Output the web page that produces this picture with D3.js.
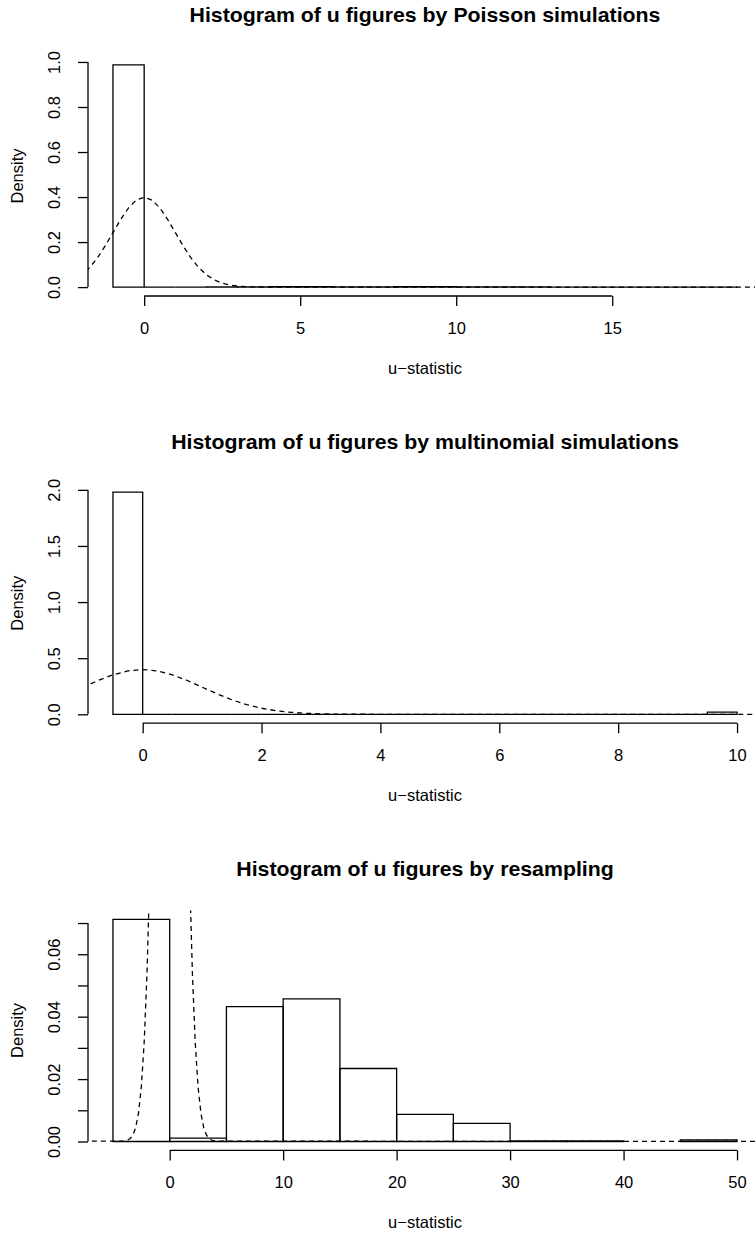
<!DOCTYPE html>
<html>
<head>
<meta charset="utf-8">
<script src="https://cdn.jsdelivr.net/npm/d3@7"></script>
<style>
  body { margin: 0; background: #fff; }
  svg text { font-family: "Liberation Sans", Arial, Helvetica, sans-serif; fill: #000; }
</style>
</head>
<body>
<div id="chart"></div>
<script>
// values
const titles = [
  "Histogram of u figures by Poisson simulations",
  "Histogram of u figures by multinomial simulations",
  "Histogram of u figures by resampling"
];

const poissonBreaks = [-1, 0, 1, 2, 3, 4, 5, 6, 7, 8, 9, 10, 11, 12, 13, 14, 15, 16, 17, 18, 19];
const poissonDensity = [0.987, 0, 0, 0.0005, 0.0005, 0.002, 0.002, 0.001, 0.001, 0.002,
                        0.002, 0.0005, 0.001, 0.0005, 0.0003, 0, 0.0003, 0, 0, 0.0002];
const poissonXTicks = [0, 5, 10, 15];
const poissonYTicks = [0, 0.2, 0.4, 0.6, 0.8, 1.0];

const multiBreaks = [-0.5, 0, 0.5, 1, 1.5, 2, 2.5, 3, 3.5, 4, 4.5, 5, 5.5, 6, 6.5, 7, 7.5, 8, 8.5, 9, 9.5, 10];
const multiDensity = [1.98, 0, 0, 0, 0, 0, 0, 0, 0, 0, 0, 0, 0, 0, 0, 0, 0, 0, 0, 0, 0.02];
const multiXTicks = [0, 2, 4, 6, 8, 10];
const multiYTicks = [0, 0.5, 1.0, 1.5, 2.0];

const resampleBreaks = [-5, 0, 5, 10, 15, 20, 25, 30, 35, 40, 45, 50];
const resampleDensity = [0.0712, 0.0011, 0.0432, 0.0457, 0.0234, 0.0087, 0.0058, 0.0002, 0.0002, null, 0.0005];
const resampleXTicks = [0, 10, 20, 30, 40, 50];
const resampleYTicks = [0, 0.01, 0.02, 0.03, 0.04, 0.05, 0.06, 0.07];
const resampleYLabels = [0, 0.02, 0.04, 0.06];

// dashed reference curve (same in all panels)
const normalX = [-60, -4, -3.75, -3.5, -3.25, -3, -2.75, -2.5, -2.25, -2, -1.75, -1.5, -1.25, -1, -0.75, -0.5, -0.25,
                 0, 0.25, 0.5, 0.75, 1, 1.25, 1.5, 1.75, 2, 2.25, 2.5, 2.75, 3, 3.25, 3.5, 3.75, 4, 60];
const normalDensity = [0, 0.0001, 0.0004, 0.0009, 0.002, 0.0044, 0.0091, 0.0175, 0.0317, 0.054, 0.0863, 0.1295, 0.1827, 0.242, 0.3011, 0.3521, 0.3867,
                       0.3989, 0.3867, 0.3521, 0.3011, 0.242, 0.1827, 0.1295, 0.0863, 0.054, 0.0317, 0.0175, 0.0091, 0.0044, 0.002, 0.0009, 0.0004, 0.0001, 0];

const panels = [
  {breaks: poissonBreaks, dens: poissonDensity, xt: poissonXTicks, yt: poissonYTicks, yl: poissonYTicks, fmt: d3.format(".1f")},
  {breaks: multiBreaks, dens: multiDensity, xt: multiXTicks, yt: multiYTicks, yl: multiYTicks, fmt: d3.format(".1f")},
  {breaks: resampleBreaks, dens: resampleDensity, xt: resampleXTicks, yt: resampleYTicks, yl: resampleYLabels, fmt: d3.format(".2f")}
];

const W = 755, H = 1236;
const left = 88, right = 762, plotH = 240, firstBottom = 296, step = 427.2;

const svg = d3.select("#chart").append("svg")
    .attr("width", W)
    .attr("height", H);

panels.forEach(function(p, i) {
  const bottom = firstBottom + i * step, top = bottom - plotH;
  const b0 = p.breaks[0], b1 = p.breaks[p.breaks.length - 1];
  const xr = b1 - b0;
  const ymax = d3.max(p.dens);

  const x = d3.scaleLinear().domain([b0 - 0.04 * xr, b1 + 0.04 * xr]).range([left, right]);
  const y = d3.scaleLinear().domain([-0.04 * ymax, 1.04 * ymax]).range([bottom, top]);

  const g = svg.append("g");

  const bins = p.dens.map((d, k) => ({x0: p.breaks[k], x1: p.breaks[k + 1], d: d}))
      .filter(b => b.d !== null);

  // bars as closed paths so that empty bins still show as a line
  g.selectAll(".bar")
      .data(bins)
    .enter().append("path")
      .attr("class", "bar")
      .attr("d", b => "M" + x(b.x0) + "," + y(0) + "V" + y(b.d) + "H" + x(b.x1) + "V" + y(0) + "Z")
      .attr("fill", "none")
      .attr("stroke", "#000")
      .attr("stroke-width", 1.3);

  // curve clipped to the plot region
  svg.append("clipPath").attr("id", "clip" + i)
    .append("rect")
      .attr("x", left).attr("y", top)
      .attr("width", right - left).attr("height", plotH);

  const line = d3.line()
      .x((d, k) => x(normalX[k]))
      .y(d => y(d));

  g.append("path")
      .datum(normalDensity)
      .attr("clip-path", "url(#clip" + i + ")")
      .attr("d", line)
      .attr("fill", "none")
      .attr("stroke", "#000")
      .attr("stroke-width", 1.3)
      .attr("stroke-dasharray", "5,4");

  // x axis
  const xa = g.append("g")
      .attr("transform", "translate(0," + bottom + ")")
      .call(d3.axisBottom(x).tickValues(p.xt).tickSize(10).tickPadding(16).tickFormat(d3.format("d")));
  xa.select(".domain").remove();
  xa.append("line")
      .attr("x1", x(p.xt[0])).attr("x2", x(p.xt[p.xt.length - 1]))
      .attr("stroke", "#000").attr("stroke-width", 1.3);
  xa.selectAll(".tick line").attr("stroke-width", 1.3);
  xa.selectAll("text").style("font-size", "16.5px").attr("fill", "#000");

  // y axis
  const ya = g.append("g")
      .attr("transform", "translate(" + left + ",0)")
      .call(d3.axisLeft(y).tickValues(p.yt).tickSize(10)
        .tickFormat(d => p.yl.includes(d) ? p.fmt(d) : ""));
  ya.select(".domain").remove();
  ya.append("line")
      .attr("y1", y(p.yt[0])).attr("y2", y(p.yt[p.yt.length - 1]))
      .attr("stroke", "#000").attr("stroke-width", 1.3);
  ya.selectAll(".tick line").attr("stroke-width", 1.3);
  ya.selectAll("text")
      .attr("x", null).attr("dy", null)
      .attr("text-anchor", "middle")
      .attr("transform", "translate(-28,0) rotate(-90)")
      .style("font-size", "16.5px")
      .attr("fill", "#000");

  // titles (slightly wide, as in the original)
  g.append("text")
      .attr("transform", "translate(" + (left + right) / 2 + "," + (bottom - 274) + ") scale(1.065,1)")
      .attr("text-anchor", "middle")
      .style("font-size", "20px")
      .style("font-weight", "bold")
      .text(titles[i]);

  g.append("text")
      .attr("x", (left + right) / 2)
      .attr("y", bottom + 78)
      .attr("text-anchor", "middle")
      .style("font-size", "16.5px")
      .text("u\u2212statistic");

  g.append("text")
      .attr("transform", "translate(23," + (top + bottom) / 2 + ") rotate(-90)")
      .attr("text-anchor", "middle")
      .style("font-size", "16.5px")
      .text("Density");
});
</script>
</body>
</html>
